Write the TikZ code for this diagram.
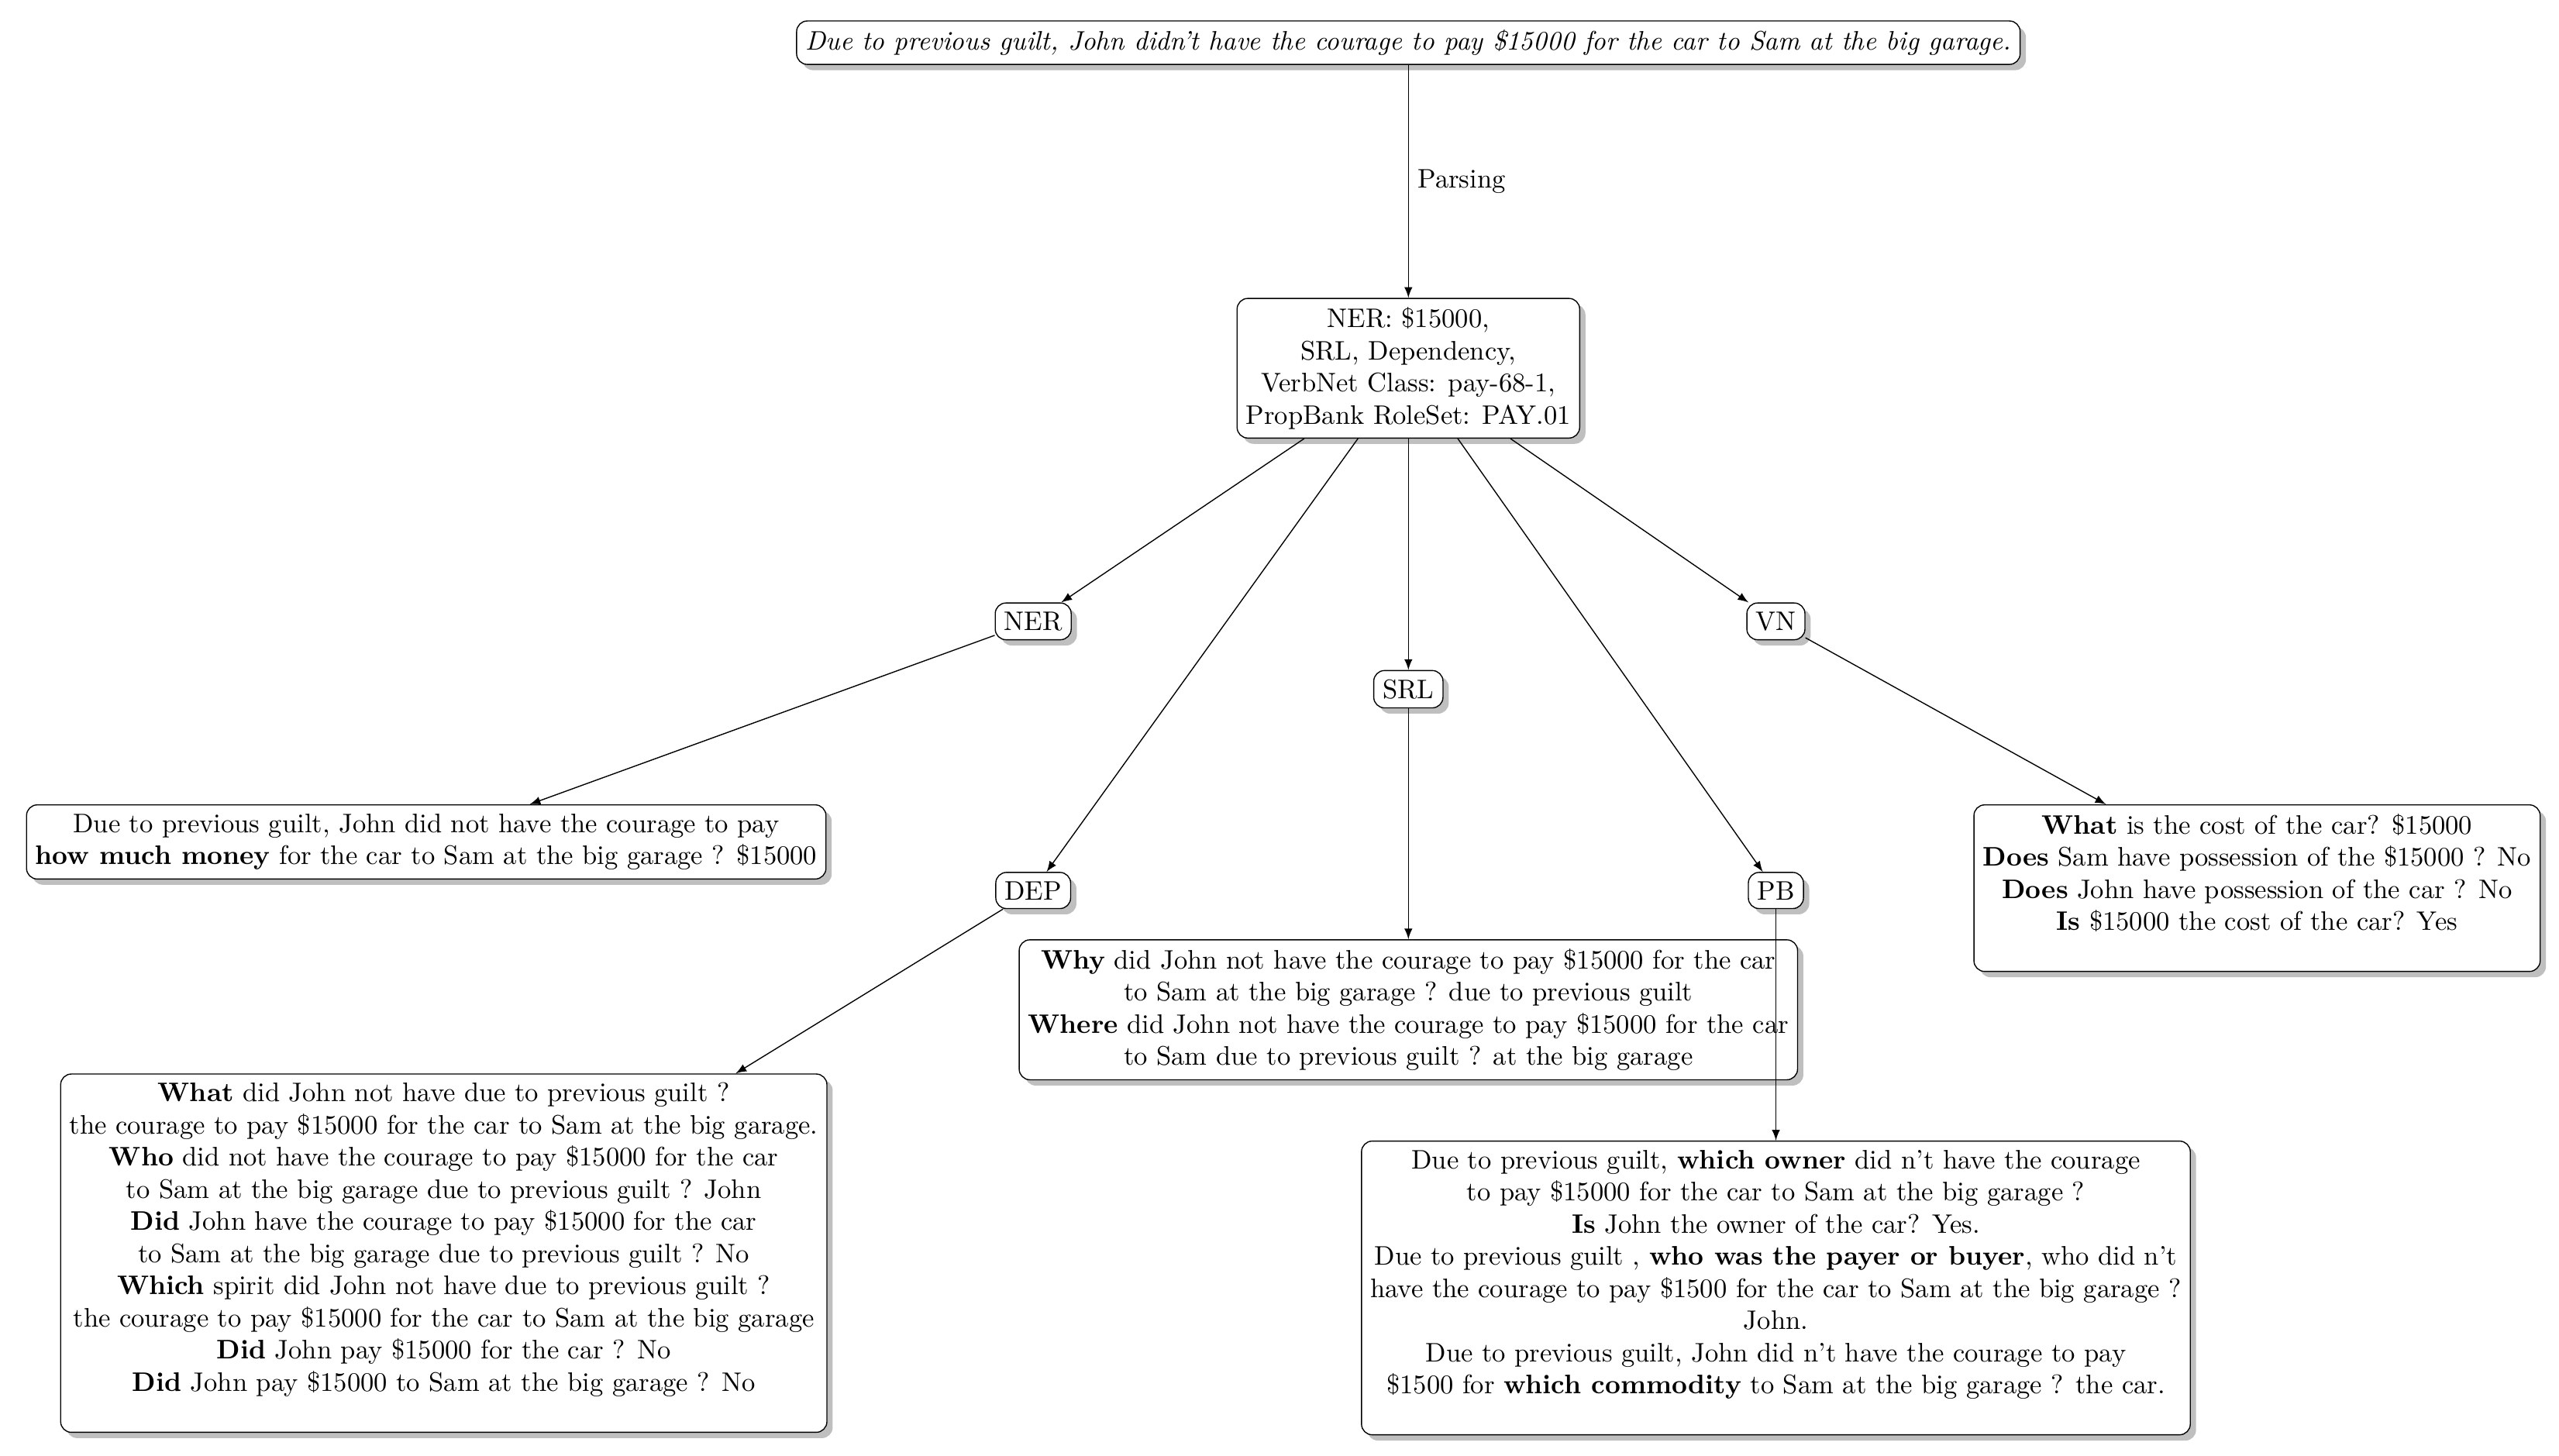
\documentclass[tikz,border=0pt]{standalone}
\usetikzlibrary{shadows}
\begin{document}
\begin{tikzpicture}
\tikzstyle{box} = [draw,rounded corners,fill=white,drop shadow,align=center]
\tikzstyle{edge} = [-latex]
\useasboundingbox (0,0) rectangle (33.56,-19.09);
	% sentence and parser output
	\node[box] (sent) at (18.47,-0.56) {\textit{Due to previous guilt, John didn't have the courage to pay \$15000 for the car to Sam at the big garage.}};
	\node[box] (root) at (18.47,-4.83) {NER: \$15000,\\ SRL, Dependency,\\ VerbNet Class: pay-68-1,\\ PropBank RoleSet: PAY.01};
	% resources
	\node[box] (ner) at (13.55,-8.15) {NER};
	\node[box] (srl) at (18.47,-9.04) {SRL};
	\node[box] (vn) at (23.29,-8.15) {VN};
	\node[box] (dep) at (13.55,-11.68) {DEP};
	\node[box] (pb) at (23.29,-11.68) {PB};
	% questions
	\node[box,anchor=north] (nerq) at (5.59,-10.55) {Due to previous guilt, John did not have the courage to pay\\ \textbf{how much money} for the car to Sam at the big garage ? \$15000};
	\node[box,anchor=north] (vnq) at (29.6,-10.55) {\textbf{What} is the cost of the car? \$15000\\ \textbf{Does} Sam have possession of the \$15000 ? No\\ \textbf{Does} John have possession of the car ? No\\ \textbf{Is} \$15000 the cost of the car? Yes\\ ~};
	\node[box,anchor=north] (srlq) at (18.47,-12.32) {\textbf{Why} did John not have the courage to pay \$15000 for the car\\ to Sam at the big garage ? due to previous guilt\\ \textbf{Where} did John not have the courage to pay \$15000 for the car\\ to Sam due to previous guilt ? at the big garage};
	\node[box,anchor=north] (depq) at (5.82,-14.08) {\textbf{What} did John not have due to previous guilt ?\\ the courage to pay \$15000 for the car to Sam at the big garage.\\ \textbf{Who} did not have the courage to pay \$15000 for the car\\ to Sam at the big garage due to previous guilt ? John\\ \textbf{Did} John have the courage to pay \$15000 for the car\\ to Sam at the big garage due to previous guilt ? No\\ \textbf{Which} spirit did John not have due to previous guilt ?\\ the courage to pay \$15000 for the car to Sam at the big garage\\ \textbf{Did} John pay \$15000 for the car ? No\\ \textbf{Did} John pay \$15000 to Sam at the big garage ? No\\ ~};
	\node[box,anchor=north] (pbq) at (23.29,-14.96) {Due to previous guilt, \textbf{which owner} did n't have the courage\\ to pay \$15000 for the car to Sam at the big garage ?\\ \textbf{Is} John the owner of the car? Yes.\\ Due to previous guilt , \textbf{who was the payer or buyer}, who did n't\\ have the courage to pay \$1500 for the car to Sam at the big garage ?\\ John.\\ Due to previous guilt, John did n't have the courage to pay\\ \$1500 for \textbf{which commodity} to Sam at the big garage ? the car.\\ ~};
	% edges
	\draw[edge] (sent) -- node[right] {Parsing} (root);
	\draw[edge] (root) -- (ner);
	\draw[edge] (root) -- (dep);
	\draw[edge] (root) -- (srl);
	\draw[edge] (root) -- (pb);
	\draw[edge] (root) -- (vn);
	\draw[edge] (ner) -- (nerq);
	\draw[edge] (srl) -- (srlq);
	\draw[edge] (vn) -- (vnq);
	\draw[edge] (dep) -- (depq);
	\draw[edge] (pb) -- (pbq);
\end{tikzpicture}
\end{document}
